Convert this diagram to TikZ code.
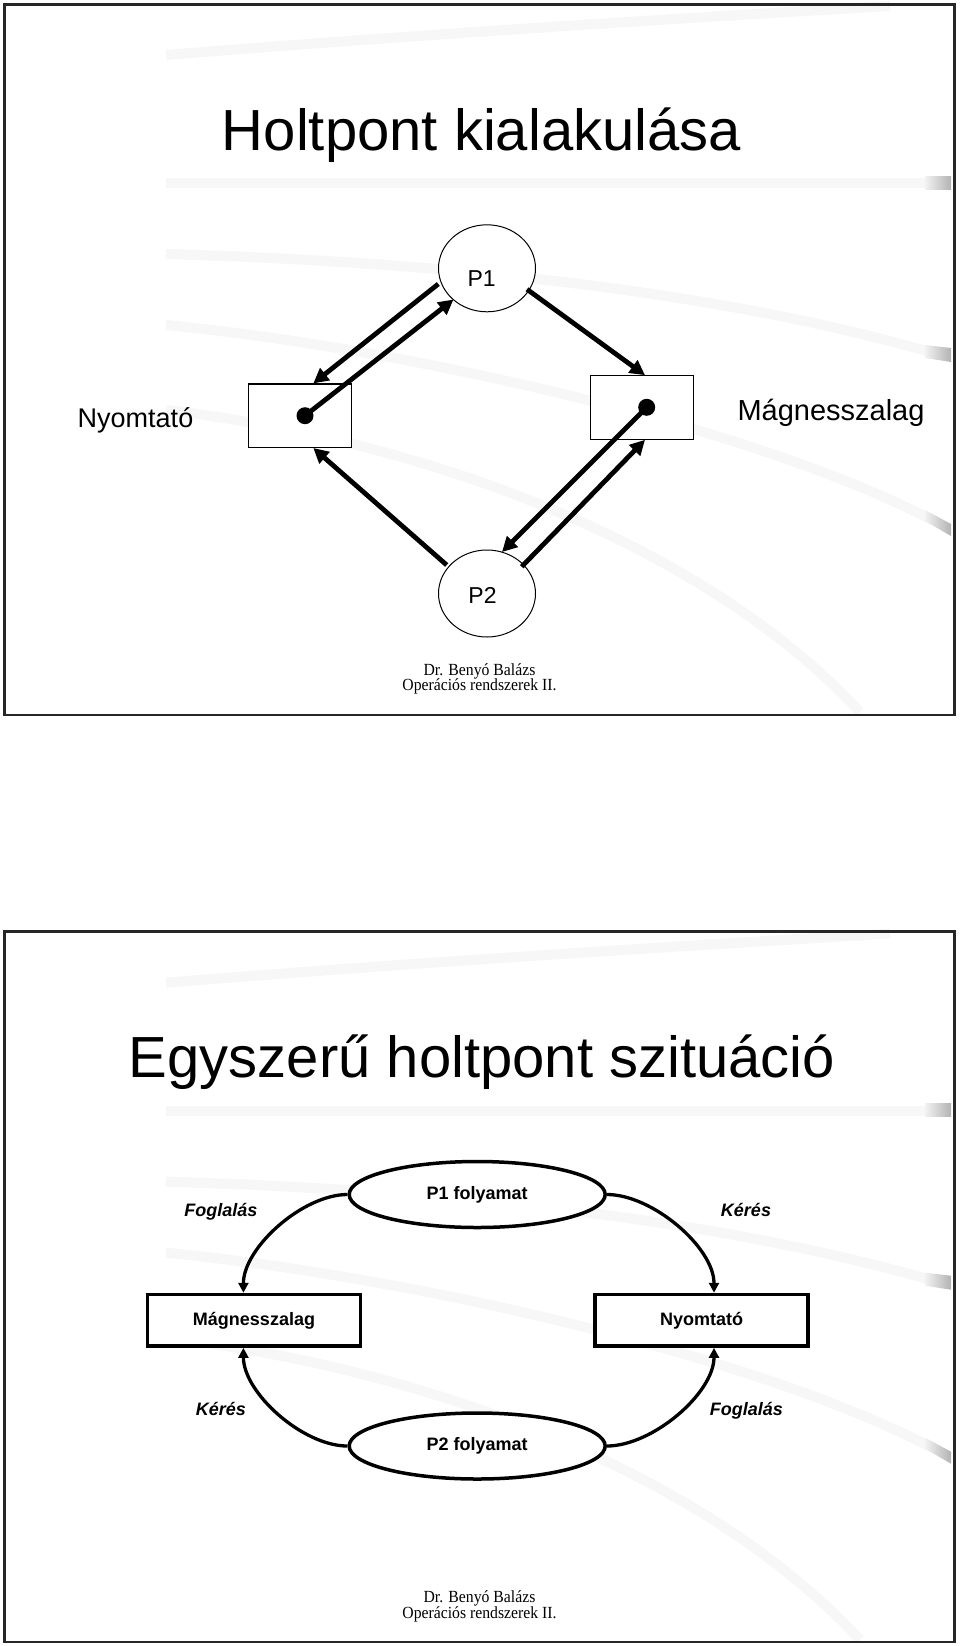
\documentclass[tikz,border=0pt]{standalone}
\usepackage{fontspec}
\usepackage{graphicx}
\setmainfont{Liberation Sans}
\newfontfamily\timesfont{Liberation Serif}
\usetikzlibrary{arrows.meta,shapes.geometric,calc}

\newcommand\slidedeco{%
  \draw[band] (166,-55) .. controls (400,-36) and (650,-20) .. (890,-6);
  \draw[band] (166,-183) -- (928,-183);
  \draw[band] (166,-254) .. controls (450,-262) and (720,-292) .. (930,-352);
  \draw[band] (166,-325) .. controls (420,-350) and (760,-430) .. (932,-520);
  \draw[band] (166,-410) .. controls (420,-440) and (700,-540) .. (860,-712);
  \shade[left color=gray!10,right color=gray!60] (925,-176) rectangle (951,-189);
  \shade[left color=gray!10,right color=gray!60] (925,-345) -- (951,-348) -- (951,-362) -- (925,-358) -- cycle;
  \shade[left color=gray!10,right color=gray!60] (925,-510) -- (951,-524) -- (951,-536) -- (925,-521) -- cycle;
}

\begin{document}
\begin{tikzpicture}[x=1pt,y=1pt,
  band/.style={draw=black!3,line width=10pt},
  frame/.style={draw=black!85,line width=2.5pt},
  title/.style={font=\fontsize{58}{60}\selectfont,anchor=base,inner sep=0},
  foot/.style={font=\timesfont\fontsize{17}{18}\selectfont,anchor=base,inner sep=0},
  side/.style={font=\fontsize{29}{31}\selectfont,anchor=base,inner sep=0},
  ptext/.style={font=\fontsize{23}{25}\selectfont,anchor=base,inner sep=0},
  proc/.style={ellipse,draw,line width=1pt,fill=white,minimum width=97pt,minimum height=87pt,inner sep=0},
  res/.style={rectangle,draw,line width=1.1pt,fill=white,minimum width=103pt,minimum height=63.5pt,inner sep=0},
  blob/.style={circle,fill=black,minimum size=17pt,inner sep=0},
  bigarrow/.style={line width=4.8pt,-{Triangle[length=15pt,width=15pt]}},
  proc2/.style={ellipse,draw,line width=3.5pt,fill=white,minimum width=256pt,minimum height=66pt,inner sep=0,
    font=\bfseries\fontsize{18}{20}\selectfont},
  res2/.style={rectangle,draw,line width=3.6pt,fill=white,minimum width=213pt,minimum height=51.5pt,inner sep=0,
    font=\bfseries\fontsize{18}{20}\selectfont},
  curvearrow/.style={line width=3.3pt,-{Triangle[length=10pt,width=10pt]}},
  edgelabel/.style={font=\bfseries\itshape\fontsize{18}{20}\selectfont,anchor=base,inner sep=0}
]
\useasboundingbox (0,0) rectangle (960,-1646);
\fill[white] (0,0) rectangle (960,-1646);

% ---------- slide 1 ----------
\slidedeco
\draw[frame] (4.5,-4.5) rectangle (954.5,-715);
\node[title] (t1) at (481.5,-150) {Holtpont kialakulása};

\node[proc] (p1) at (487,-268.3) {};
\node[proc] (p2) at (487,-593.5) {};
\node[ptext] (p1t) at (481.7,-286) {P1};
\node[ptext] (p2t) at (482.5,-603.3) {P2};
\node[res] (lrect) at (300.3,-415.7) {};
\node[res] (rrect) at (642,-407.5) {};
\node[blob] (ldot) at (305,-415.7) {};
\node[blob] (rdot) at (646.7,-407.3) {};
\node[side,font=\fontsize{27}{29}\selectfont] (ny1) at (135.5,-427) {Nyomtató};
\node[side] (mg1) at (831,-420) {Mágnesszalag};

\draw[bigarrow] ($(p1.center)+(-48.7,-15.7)$) -- ($(lrect.north)+(13,0)$);
\draw[bigarrow] (ldot.center) -- ($(p1.center)+(-33.5,-31.2)$);
\draw[bigarrow] ($(p1.center)+(40,-21)$) -- ($(rrect.north)+(3,0)$);
\draw[bigarrow] ($(p2.center)+(-40.3,28.5)$) -- ($(lrect.south)+(13,0)$);
\draw[bigarrow] (rdot.center) -- ($(p2.center)+(15,41.5)$);
\draw[bigarrow] ($(p2.center)+(34.7,26.8)$) -- ($(rrect.south)+(3,0)$);

\node[foot] (f1a) at (479.5,-675) {\scalebox{0.925}[1]{Dr. Benyó Balázs}};
\node[foot] (f1b) at (479.5,-690.7) {\scalebox{0.925}[1]{Operációs rendszerek II.}};

% ---------- slide 2 ----------
\begin{scope}[yshift=-927.7pt]
\slidedeco
\end{scope}
\draw[frame] (4.5,-931.7) rectangle (954.5,-1642);
\node[title] (t2) at (482,-1077.5) {Egyszerű holtpont szituáció};

\node[proc2] (q1) at (477.2,-1194.5) {P1 folyamat};
\node[proc2] (q2) at (477.2,-1446) {P2 folyamat};
\node[res2] (mrect) at (254,-1320.3) {Mágnesszalag};
\node[res2] (nrect) at (701.5,-1320.3) {Nyomtató};

\draw[curvearrow] (q1.west) to[out=180,in=90,looseness=0.8] ($(mrect.north)+(-10.6,0)$);
\draw[curvearrow] (q1.east) to[out=0,in=90,looseness=0.8] ($(nrect.north)+(12.5,0)$);
\draw[curvearrow] (q2.west) to[out=180,in=-90,looseness=0.8] ($(mrect.south)+(-10.6,0)$);
\draw[curvearrow] (q2.east) to[out=0,in=-90,looseness=0.8] ($(nrect.south)+(12.5,0)$);

\node[edgelabel] (l1) at (220.8,-1216.7) {Foglalás};
\node[edgelabel] (l2) at (746,-1216.7) {Kérés};
\node[edgelabel] (l3) at (221,-1415) {Kérés};
\node[edgelabel] (l4) at (746.4,-1415) {Foglalás};

\node[foot] (f2a) at (479.5,-1602.7) {\scalebox{0.925}[1]{Dr. Benyó Balázs}};
\node[foot] (f2b) at (479.5,-1618.4) {\scalebox{0.925}[1]{Operációs rendszerek II.}};
\end{tikzpicture}
\end{document}
